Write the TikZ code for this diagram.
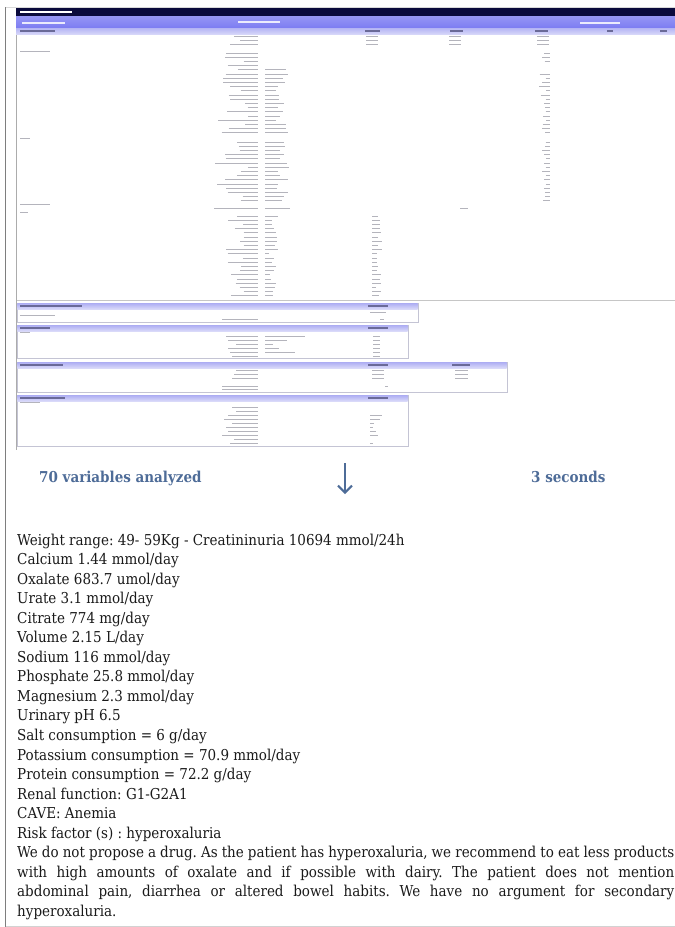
\documentclass[tikz,border=0pt]{standalone}
\usepackage{fontspec}
\setmainfont{DejaVu Serif Condensed}
\usetikzlibrary{arrows.meta}
\definecolor{navy}{HTML}{0A0A3C}
\definecolor{barblue}{HTML}{7C7CF2}
\definecolor{lav}{HTML}{B4B4F4}
\definecolor{slate}{HTML}{4E6C98}
\definecolor{markc}{HTML}{B4B4BC}
\definecolor{markd}{HTML}{6A6A98}
\definecolor{framec}{HTML}{7E7E7E}
\definecolor{boxc}{HTML}{C4C4D4}
\definecolor{txt}{HTML}{1A1A1A}
\begin{document}
\frenchspacing
\begin{tikzpicture}[x=1pt,y=-1pt,
  mk/.style={draw=markc, line width=1pt},
  mkd/.style={draw=markd, line width=1.1pt},
  mkw/.style={draw=white!85!barblue, line width=1.2pt},
  sbox/.style={draw=boxc, line width=0.6pt},
  body/.style={anchor=base west, inner sep=0pt, text=txt},
  note/.style={anchor=base west, inner sep=0pt, text=slate, font=\bfseries\fontsize{15}{18}\selectfont}]
\useasboundingbox (0,0) rectangle (675,927);
\fill[white] (0,0) rectangle (675,927);
% outer frame
\draw[framec, line width=1.2pt] (5.5,7) -- (5.5,927);
\draw[gray!30, line width=0.6pt] (5.5,7) -- (675,7);
\draw[gray!35, line width=0.8pt] (5.5,926) -- (675,926);
% spreadsheet panel
\draw[gray!65, line width=0.8pt] (16.5,8) -- (16.5,450);
\fill[navy] (16,8) rectangle (675,16);
\shade[top color=barblue!80, bottom color=barblue] (16,16) rectangle (675,28);
\shade[top color=lav, bottom color=lav!55] (16,28) rectangle (675,34);
\draw[gray!45, line width=0.6pt] (17,300.5) -- (675,300.5);
% header texts (illegible)
\draw[draw=white, line width=1.3pt] (20,12) -- (72,12);
\draw[mkw] (22,23) -- (65,23);
\draw[mkw] (238,22) -- (280,22);
\draw[mkw] (580,23) -- (620,23);
\draw[mkd] (20,31) -- (55,31);
\foreach \a/\b in {365/380,450/463,535/548,607/613,660/667}
  \draw[mkd] (\a,31) -- (\b,31);
% common rows
\foreach \yy/\w in {36/24,40/18,44/28}{
  \draw[mk] ({258-\w},\yy) -- (258,\yy);
  \draw[mk] (366,\yy) -- (378,\yy);
  \draw[mk] (449,\yy) -- (461,\yy);
  \draw[mk] (537,\yy) -- (549,\yy);
}
% urine
\draw[mk] (20,51) -- (50,51);
\pgfmathsetseed{11}
\foreach \i in {0,...,19}{
  \pgfmathsetmacro\yy{53+4.2*\i}
  \pgfmathsetmacro\ww{8+36*rnd}
  \pgfmathsetmacro\vw{10+16*rnd}
  \pgfmathsetmacro\cw{3+8*rnd}
  \draw[mk] ({258-\ww},\yy) -- (258,\yy);
  \ifnum\i>3 \draw[mk] (265,\yy) -- ({265+\vw},\yy); \fi
  \ifnum\i<3 \draw[mk] ({550-\cw},\yy) -- (550,\yy); \fi
  \ifnum\i>4 \draw[mk] ({550-\cw},\yy) -- (550,\yy); \fi
}
% blood
\draw[mk] (20,138) -- (30,138);
\foreach \i in {0,...,14}{
  \pgfmathsetmacro\yy{142+4.2*\i}
  \pgfmathsetmacro\ww{10+36*rnd}
  \pgfmathsetmacro\vw{12+14*rnd}
  \pgfmathsetmacro\cw{3+6*rnd}
  \draw[mk] ({258-\ww},\yy) -- (258,\yy);
  \draw[mk] (265,\yy) -- ({265+\vw},\yy);
  \draw[mk] ({550-\cw},\yy) -- (550,\yy);
}
% stones
\draw[mk] (20,204) -- (50,204);
\draw[mk] (214,208) -- (258,208);
\draw[mk] (265,208) -- (290,208);
\draw[mk] (460,208) -- (468,208);
\draw[mk] (20,212) -- (28,212);
\foreach \i in {0,...,19}{
  \pgfmathsetmacro\yy{216+4.2*\i}
  \pgfmathsetmacro\ww{14+18*rnd}
  \pgfmathsetmacro\vw{4+9*rnd}
  \pgfmathsetmacro\cw{4+6*rnd}
  \draw[mk] ({258-\ww},\yy) -- (258,\yy);
  \draw[mk] (265,\yy) -- ({265+\vw},\yy);
  \draw[mk] (372,\yy) -- ({372+\cw},\yy);
}
% section 1
\draw[sbox] (17,303) rectangle (418,322);
\shade[top color=lav!90!barblue, bottom color=lav!50] (17.3,303.3) rectangle (417.7,309);
\draw[mkd] (20,306) -- (82,306);
\draw[mkd] (368,306) -- (388,306);
\draw[mk] (20,315) -- (55,315);
\draw[mk] (370,312) -- (386,312);
\draw[mk] (222,319) -- (258,319);
\draw[mk] (380,319) -- (384,319);
% section 2
\draw[sbox] (17,325) rectangle (408,358);
\shade[top color=lav!90!barblue, bottom color=lav!50] (17.3,325.3) rectangle (407.7,331);
\draw[mkd] (20,328) -- (50,328);
\draw[mkd] (368,328) -- (388,328);
\draw[mk] (20,332) -- (30,332);
\foreach \yy/\w/\v in {336/32/40,340/30/22,344/22/8,348/30/14,352/28/30,356/26/0}{
  \draw[mk] ({258-\w},\yy) -- (258,\yy);
  \ifnum\v>0 \draw[mk] (265,\yy) -- ({265+\v},\yy); \fi
  \draw[mk] (373,\yy) -- (380,\yy);
}
% section 3
\draw[sbox] (17,362) rectangle (507,392);
\shade[top color=lav!90!barblue, bottom color=lav!50] (17.3,362.3) rectangle (506.7,368);
\draw[mkd] (20,365) -- (63,365);
\draw[mkd] (368,365) -- (388,365);
\draw[mkd] (452,365) -- (470,365);
\foreach \yy/\w in {370/22,374/24,378/26}{
  \draw[mk] ({258-\w},\yy) -- (258,\yy);
  \draw[mk] (372,\yy) -- (384,\yy);
  \draw[mk] (455,\yy) -- (468,\yy);
}
\draw[mk] (222,386) -- (258,386);
\draw[mk] (222,389) -- (258,389);
\draw[mk] (385,386) -- (388,386);
% section 4
\draw[sbox] (17,395) rectangle (408,446);
\shade[top color=lav!90!barblue, bottom color=lav!50] (17.3,395.3) rectangle (407.7,401);
\draw[mkd] (20,398) -- (65,398);
\draw[mkd] (368,398) -- (388,398);
\draw[mk] (20,402) -- (40,402);
\foreach \yy/\w/\c in {407/26/0,411/22/0,415/30/12,419/34/10,423/26/4,427/32/3,431/30/6,435/36/8,439/24/0,443/28/3}{
  \draw[mk] ({258-\w},\yy) -- (258,\yy);
  \ifnum\c>0 \draw[mk] (370,\yy) -- ({370+\c},\yy); \fi
}
% middle line
\node[note] (nvar) at (39,482) {70 variables analyzed};
\node[note] (nsec) at (531,482) {3 seconds};
\coordinate (atop) at (345,463);
\coordinate (abot) at (345,494);
\draw[slate, line width=2pt, -{Straight Barb[length=7pt,width=14pt,line width=2pt]}] (atop) -- (abot);
% report text
\node[body, text width=657pt, align=justify, font=\fontsize{15}{19.55}\selectfont] (report) at (17,545) {Weight range: 49- 59Kg - Creatininuria 10694 mmol/24h\\
Calcium 1.44 mmol/day\\
Oxalate 683.7 umol/day\\
Urate 3.1 mmol/day\\
Citrate 774 mg/day\\
Volume 2.15 L/day\\
Sodium 116 mmol/day\\
Phosphate 25.8 mmol/day\\
Magnesium 2.3 mmol/day\\
Urinary pH 6.5\\
Salt consumption = 6 g/day\\
Potassium consumption = 70.9 mmol/day\\
Protein consumption = 72.2 g/day\\
Renal function: G1-G2A1\\
CAVE: Anemia\\
Risk factor (s) : hyperoxaluria\\
We do not propose a drug. As the patient has hyperoxaluria, we recommend to eat less products\linebreak
with high amounts of oxalate and if possible with dairy. The patient does not mention\linebreak
abdominal pain, diarrhea or altered bowel habits. We have no argument for secondary\linebreak
hyperoxaluria.};
\end{tikzpicture}
\end{document}
